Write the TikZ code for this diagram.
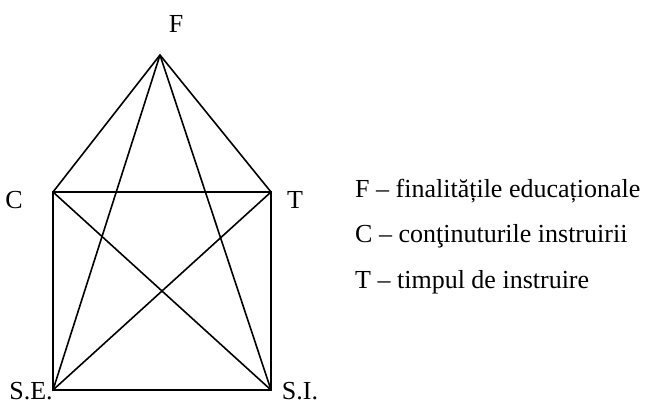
\documentclass[tikz,border=0pt]{standalone}
\usepackage{fontspec}
\setmainfont{Liberation Serif}
\usepackage{tikz}
\usetikzlibrary{positioning}

\begin{document}
\begin{tikzpicture}[x=1pt,y=-1pt,
  font=\fontsize{26}{30}\selectfont,
  edge/.style={line width=1.6pt,black,line join=miter},
  lbl/.style={inner sep=0pt},
  legend/.style={inner sep=0pt,anchor=west}]
\useasboundingbox (0,0) rectangle (649,405);
\coordinate (f) at (160,55);
\coordinate (c) at (53,192);
\coordinate (t) at (271,192);
\coordinate (se) at (53,390);
\coordinate (si) at (271,390);
\node[lbl] (fl) at (176,24) {F};
\node[lbl] (cl) at (14,200) {C};
\node[lbl] (tl) at (295,200) {T};
\node[lbl] (sel) at (31,391) {S.E.};
\node[lbl] (sil) at (300,391) {S.I.};
\draw[edge] (c) -- (f) -- (t);
\draw[edge] (c) -- (t) -- (si) -- (se) -- cycle;
\draw[edge] (f) -- (se);
\draw[edge] (f) -- (si);
\draw[edge] (c) -- (si);
\draw[edge] (t) -- (se);
\node[legend] (lf) at (355,191) {F -- finalitățile educaționale};
\node[legend] (lc) at (355,236) {C -- conţinuturile instruirii};
\node[legend] (lt) at (355,282) {T -- timpul de instruire};
\end{tikzpicture}
\end{document}
